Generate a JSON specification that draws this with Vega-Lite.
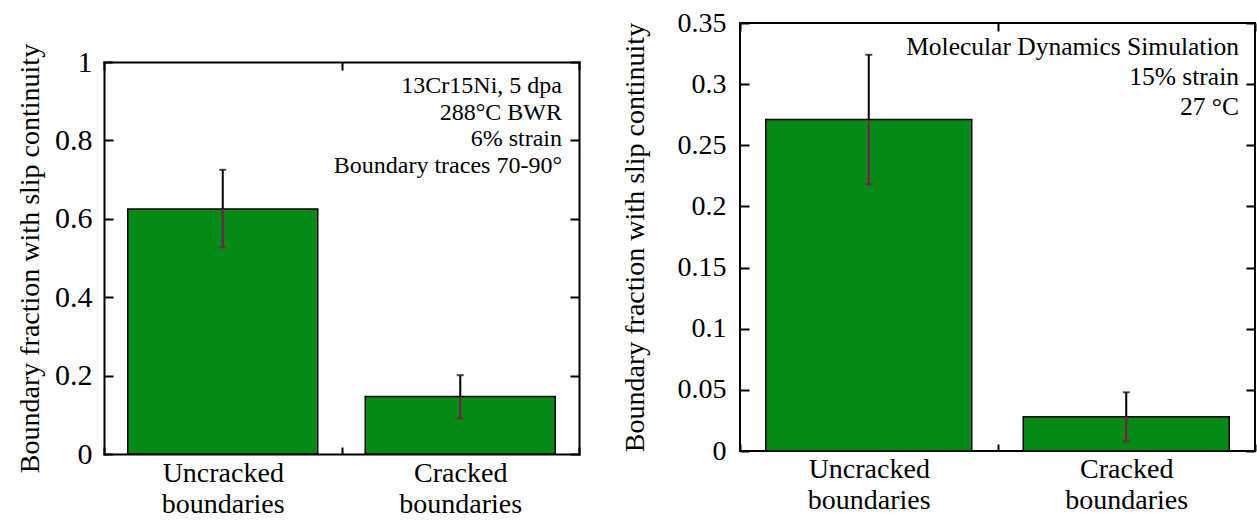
{
  "$schema": "https://vega.github.io/schema/vega-lite/v6.json",
  "padding": {"left": 16, "top": 8, "right": 0, "bottom": 0},
  "background": "white",
  "config": {
    "view": {"stroke": "black", "strokeWidth": 2},
    "font": "Liberation Serif",
    "axis": {"labelFont": "Liberation Serif", "titleFont": "Liberation Serif", "labelColor": "black", "titleColor": "black", "tickColor": "black", "domain": false, "grid": false, "tickWidth": 2, "titleFontWeight": "normal"},
    "concat": {"spacing": 40}
  },
  "hconcat": [
    {
      "width": 475,
      "height": 431,
      "view": {"stroke": null},
      "data": {"values": [
        {"boundary": "Uncracked boundaries", "fraction": 0.625, "lower": 0.527, "upper": 0.725},
        {"boundary": "Cracked boundaries", "fraction": 0.147, "lower": 0.091, "upper": 0.201}
      ]},
      "resolve": {"axis": {"x": "independent", "y": "independent"}},
      "layer": [
        {
          "mark": {"type": "bar", "width": {"band": 0.8}, "fill": "#058a16", "stroke": "black", "strokeWidth": 1.5},
          "encoding": {
            "x": {"field": "boundary", "type": "nominal", "sort": null, "scale": {"paddingInner": 0, "paddingOuter": 0},
              "axis": {"orient": "bottom", "title": null, "labelAngle": 0, "labelExpr": "split(datum.label, ' ')", "labelFontSize": 28, "labelLineHeight": 31, "labelBaseline": "top", "labelPadding": 12, "tickSize": -7, "tickBand": "extent", "domain": true, "domainColor": "black", "domainWidth": 2, "domainCap": "square"}},
            "y": {"field": "fraction", "type": "quantitative", "scale": {"domain": [0, 1], "range": [431, 39]},
              "axis": {"orient": "left", "title": "Boundary fraction with slip continuity", "titleFontSize": 28, "values": [0, 0.2, 0.4, 0.6, 0.8, 1], "format": "~g", "labelFontSize": 30, "tickSize": -9, "labelPadding": 21, "titlePadding": 10, "domain": true, "domainColor": "black", "domainWidth": 2, "domainCap": "square"}}
          }
        },
        {
          "mark": {"type": "rule", "color": "black", "strokeWidth": 2},
          "encoding": {
            "x": {"field": "boundary", "type": "nominal", "sort": null, "axis": {"orient": "top", "offset": -39, "title": null, "labels": false, "tickSize": -8, "tickBand": "extent", "domain": true, "domainColor": "black", "domainWidth": 2, "domainCap": "square"}},
            "y": {"field": "fraction", "type": "quantitative", "axis": {"orient": "right", "title": null, "labels": false, "values": [0, 0.2, 0.4, 0.6, 0.8, 1], "tickSize": -9, "domain": true, "domainColor": "black", "domainWidth": 2, "domainCap": "square"}},
            "y2": {"field": "upper"}
          }
        },
        {
          "mark": {"type": "rule", "color": "#86125a", "strokeWidth": 2},
          "encoding": {
            "x": {"field": "boundary", "type": "nominal", "sort": null, "axis": null},
            "y": {"field": "lower", "type": "quantitative", "axis": null},
            "y2": {"field": "fraction"}
          }
        },
        {
          "mark": {"type": "tick", "color": "black", "size": 7, "thickness": 2, "orient": "horizontal"},
          "encoding": {
            "x": {"field": "boundary", "type": "nominal", "sort": null, "axis": null},
            "y": {"field": "upper", "type": "quantitative", "axis": null}
          }
        },
        {
          "mark": {"type": "tick", "color": "#86125a", "size": 7, "thickness": 2, "orient": "horizontal"},
          "encoding": {
            "x": {"field": "boundary", "type": "nominal", "sort": null, "axis": null},
            "y": {"field": "lower", "type": "quantitative", "axis": null}
          }
        },
        {
          "data": {"values": [{"note": ["13Cr15Ni, 5 dpa", "288°C BWR", "6% strain", "Boundary traces 70-90°"]}]},
          "mark": {"type": "text", "align": "right", "baseline": "alphabetic", "fontSize": 24, "lineHeight": 26.7, "dx": -17, "font": "Liberation Serif", "color": "black"},
          "encoding": {
            "x": {"datum": "Cracked boundaries", "type": "nominal", "bandPosition": 1, "axis": null},
            "y": {"datum": 0.921, "type": "quantitative", "axis": null},
            "text": {"field": "note"}
          }
        }
      ]
    },
    {
      "width": 515,
      "height": 428,
      "data": {"values": [
        {"boundary": "Uncracked boundaries", "fraction": 0.271, "lower": 0.218, "upper": 0.324},
        {"boundary": "Cracked boundaries", "fraction": 0.028, "lower": 0.008, "upper": 0.048}
      ]},
      "resolve": {"axis": {"x": "independent", "y": "independent"}},
      "layer": [
        {
          "mark": {"type": "bar", "width": {"band": 0.8}, "fill": "#058a16", "stroke": "black", "strokeWidth": 1.5},
          "encoding": {
            "x": {"field": "boundary", "type": "nominal", "sort": null, "scale": {"paddingInner": 0, "paddingOuter": 0},
              "axis": {"orient": "bottom", "title": null, "labelAngle": 0, "labelExpr": "split(datum.label, ' ')", "labelFontSize": 28, "labelLineHeight": 31, "labelBaseline": "top", "labelPadding": 11, "tickSize": -7, "tickBand": "extent"}},
            "y": {"field": "fraction", "type": "quantitative", "scale": {"domain": [0, 0.35]},
              "axis": {"orient": "left", "title": "Boundary fraction with slip continuity", "titleFontSize": 28, "values": [0, 0.05, 0.1, 0.15, 0.2, 0.25, 0.3, 0.35], "format": "~g", "labelFontSize": 28, "tickSize": -9, "labelPadding": 23, "titlePadding": 28}}
          }
        },
        {
          "mark": {"type": "rule", "color": "black", "strokeWidth": 2},
          "encoding": {
            "x": {"field": "boundary", "type": "nominal", "sort": null, "axis": {"orient": "top", "title": null, "labels": false, "tickSize": -8, "tickBand": "extent"}},
            "y": {"field": "fraction", "type": "quantitative", "axis": {"orient": "right", "title": null, "labels": false, "values": [0, 0.05, 0.1, 0.15, 0.2, 0.25, 0.3, 0.35], "tickSize": -9}},
            "y2": {"field": "upper"}
          }
        },
        {
          "mark": {"type": "rule", "color": "#86125a", "strokeWidth": 2},
          "encoding": {
            "x": {"field": "boundary", "type": "nominal", "sort": null, "axis": null},
            "y": {"field": "lower", "type": "quantitative", "axis": null},
            "y2": {"field": "fraction"}
          }
        },
        {
          "mark": {"type": "tick", "color": "black", "size": 7, "thickness": 2, "orient": "horizontal"},
          "encoding": {
            "x": {"field": "boundary", "type": "nominal", "sort": null, "axis": null},
            "y": {"field": "upper", "type": "quantitative", "axis": null}
          }
        },
        {
          "mark": {"type": "tick", "color": "#86125a", "size": 7, "thickness": 2, "orient": "horizontal"},
          "encoding": {
            "x": {"field": "boundary", "type": "nominal", "sort": null, "axis": null},
            "y": {"field": "lower", "type": "quantitative", "axis": null}
          }
        },
        {
          "data": {"values": [{"note": ["Molecular Dynamics Simulation", "15% strain", "27 °C"]}]},
          "mark": {"type": "text", "align": "right", "baseline": "alphabetic", "fontSize": 25.5, "lineHeight": 30, "dx": -16, "font": "Liberation Serif", "color": "black"},
          "encoding": {
            "x": {"datum": "Cracked boundaries", "type": "nominal", "bandPosition": 1, "axis": null},
            "y": {"datum": 0.324, "type": "quantitative", "axis": null},
            "text": {"field": "note"}
          }
        }
      ]
    }
  ]
}
